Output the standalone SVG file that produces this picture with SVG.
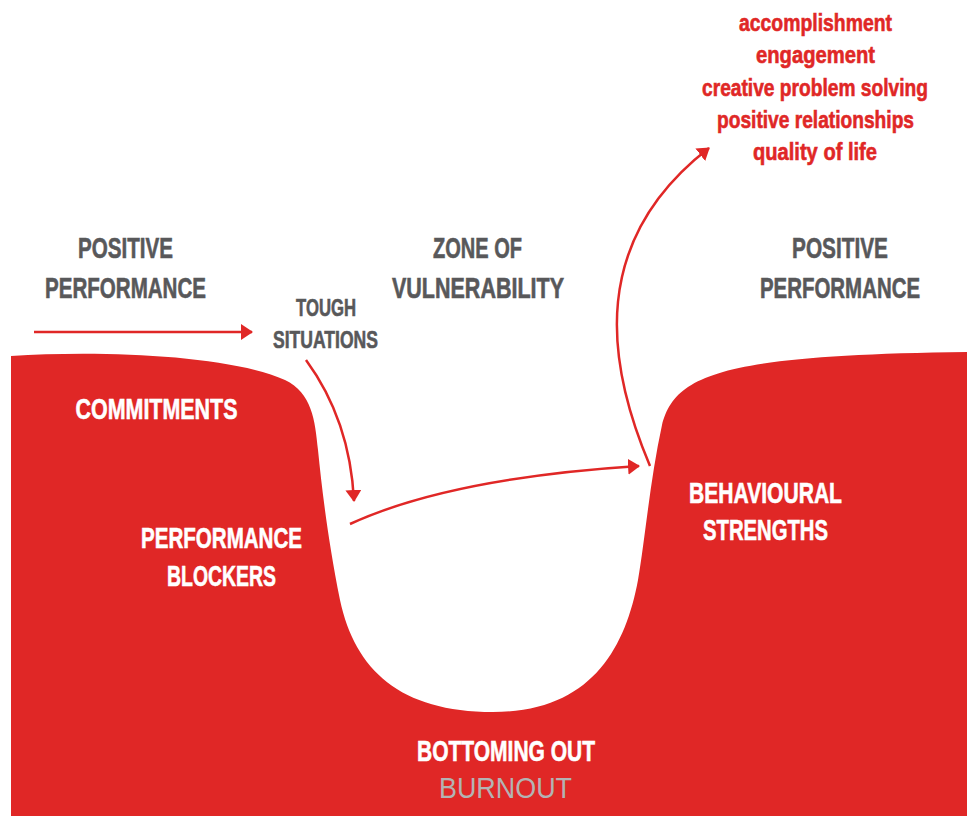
<svg xmlns="http://www.w3.org/2000/svg" width="971" height="816" viewBox="0 0 971 816">
<style>
text{font-family:"Liberation Sans Narrow","Liberation Sans",Arial,sans-serif;font-weight:bold;text-anchor:middle;stroke-width:0.6}
.g{fill:#58585a;stroke:#58585a;font-size:29px}
.s{fill:#58585a;stroke:#58585a;font-size:24px}
.w{fill:#ffffff;stroke:#ffffff;font-size:29px}
.r{fill:#e02726;stroke:#e02726;font-size:24px}
.b{fill:#b3b3b3;font-size:29px;font-weight:normal;stroke:none}
.c{fill:none;stroke:#e02726;stroke-width:2.5}
</style>
<defs>
<marker id="ah" viewBox="0 0 12 16" refX="11" refY="8" markerWidth="12" markerHeight="16" markerUnits="userSpaceOnUse" orient="auto">
<path d="M0 0 L12 8 L0 16 Z" fill="#e02726"/>
</marker>
</defs>
<rect width="971" height="816" fill="#ffffff"/>
<g id="terrain">
<path d="M 11 356 C 100 350 230 355 285 380 C 312 393 315 420 318 450 C 322 490 328 540 340 600 C 355 670 400 712 493 712 C 590 712 625 650 638 580 C 645 540 650 480 662 425 C 675 375 720 355 967 352 L 967 816 L 11 816 Z" fill="#e02726"/>
</g>
<g id="connectors">
<path class="c" d="M 34 332 L 252 332" marker-end="url(#ah)"/>
<path class="c" d="M 306 360 Q 350 420 354 501" marker-end="url(#ah)"/>
<path class="c" d="M 350 524 Q 450 478 639 466" marker-end="url(#ah)"/>
<path class="c" d="M 650 466 C 605 360 590 240 709 148" marker-end="url(#ah)"/>
</g>
<g id="positive-left">
<text class="g" x="125.5" y="258" textLength="95" lengthAdjust="spacingAndGlyphs">POSITIVE</text>
<text class="g" x="125.5" y="298" textLength="161" lengthAdjust="spacingAndGlyphs">PERFORMANCE</text>
</g>
<g id="zone">
<text class="g" x="477.5" y="258" textLength="89" lengthAdjust="spacingAndGlyphs">ZONE OF</text>
<text class="g" x="478" y="298" textLength="172" lengthAdjust="spacingAndGlyphs">VULNERABILITY</text>
</g>
<g id="positive-right">
<text class="g" x="840" y="258" textLength="96" lengthAdjust="spacingAndGlyphs">POSITIVE</text>
<text class="g" x="840" y="298" textLength="160" lengthAdjust="spacingAndGlyphs">PERFORMANCE</text>
</g>
<g id="tough">
<text class="s" x="326" y="316" textLength="60" lengthAdjust="spacingAndGlyphs">TOUGH</text>
<text class="s" x="325.5" y="348" textLength="105" lengthAdjust="spacingAndGlyphs">SITUATIONS</text>
</g>
<g id="commitments">
<text class="w" x="156.5" y="419" textLength="162" lengthAdjust="spacingAndGlyphs">COMMITMENTS</text>
</g>
<g id="blockers">
<text class="w" x="221.5" y="548" textLength="161" lengthAdjust="spacingAndGlyphs">PERFORMANCE</text>
<text class="w" x="221.5" y="586" textLength="109" lengthAdjust="spacingAndGlyphs">BLOCKERS</text>
</g>
<g id="strengths">
<text class="w" x="765.5" y="503" textLength="153" lengthAdjust="spacingAndGlyphs">BEHAVIOURAL</text>
<text class="w" x="765.5" y="540" textLength="125" lengthAdjust="spacingAndGlyphs">STRENGTHS</text>
</g>
<g id="bottom">
<text class="w" x="506" y="761" textLength="178" lengthAdjust="spacingAndGlyphs">BOTTOMING OUT</text>
<text class="b" x="505.5" y="798" textLength="133" lengthAdjust="spacingAndGlyphs">BURNOUT</text>
</g>
<g id="outcomes">
<text class="r" x="815.5" y="31" textLength="153" lengthAdjust="spacingAndGlyphs">accomplishment</text>
<text class="r" x="815.5" y="63" textLength="119" lengthAdjust="spacingAndGlyphs">engagement</text>
<text class="r" x="815" y="96" textLength="226" lengthAdjust="spacingAndGlyphs">creative problem solving</text>
<text class="r" x="815.5" y="128" textLength="197" lengthAdjust="spacingAndGlyphs">positive relationships</text>
<text class="r" x="815" y="160" textLength="124" lengthAdjust="spacingAndGlyphs">quality of life</text>
</g>
</svg>
